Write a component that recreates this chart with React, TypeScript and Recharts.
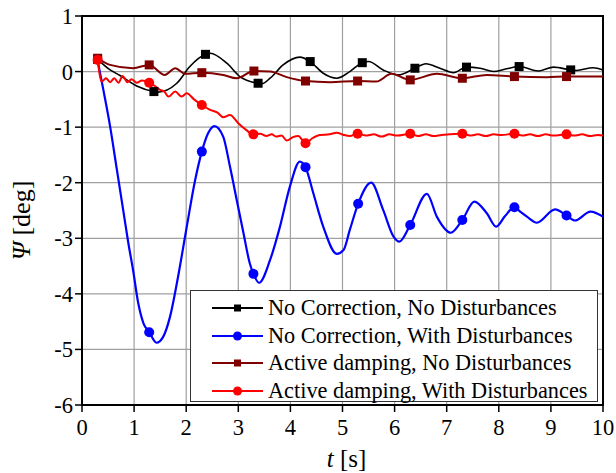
import { LineChart, Line, XAxis, YAxis, CartesianGrid, ReferenceArea, Legend } from "recharts";

const xTicks = [0, 1, 2, 3, 4, 5, 6, 7, 8, 9, 10];
const yTicks = [-6, -5, -4, -3, -2, -1, 0, 1];

// No Correction, No Disturbances
const blackT = [0.3, 0.54, 0.73, 1.05, 1.38, 1.45, 1.82, 2.07, 2.37, 2.46, 2.78, 3.03, 3.38, 3.45, 3.61, 3.86, 4.18, 4.38, 4.63, 4.89, 5.14, 5.38, 5.5, 5.78, 6.07, 6.39, 6.6, 6.87, 7.13, 7.38, 7.64, 7.9, 8.15, 8.39, 8.76, 9.05, 9.38, 9.49, 9.81, 10];
const blackY = [0.22, 0.03, -0.07, -0.26, -0.36, -0.37, -0.21, 0.09, 0.31, 0.33, 0.15, -0.09, -0.21, -0.22, -0.12, 0.12, 0.26, 0.18, -0.03, -0.12, 0.0, 0.16, 0.18, 0.03, -0.06, 0.06, 0.14, 0.06, -0.02, 0.08, 0.06, 0.0, 0.05, 0.09, 0.01, 0.08, 0.03, 0.02, 0.07, 0.03];
const blackMarks = [0.3, 1.38, 2.37, 3.38, 4.38, 5.38, 6.39, 7.38, 8.39, 9.38];

// No Correction, With Disturbances
const blueT = [0.3, 0.41, 0.54, 0.67, 0.79, 0.89, 0.98, 1.08, 1.18, 1.29, 1.43, 1.56, 1.69, 1.85, 2.0, 2.17, 2.3, 2.42, 2.54, 2.71, 2.84, 2.97, 3.1, 3.22, 3.29, 3.4, 3.61, 3.8, 3.99, 4.18, 4.29, 4.44, 4.63, 4.89, 5.02, 5.14, 5.3, 5.55, 5.78, 5.98, 6.09, 6.3, 6.62, 6.81, 7.08, 7.3, 7.53, 7.77, 7.95, 8.12, 8.3, 8.41, 8.54, 8.73, 9.08, 9.3, 9.46, 9.76, 10];
const blueY = [0.2, -0.33, -0.99, -1.77, -2.49, -3.09, -3.57, -4.17, -4.53, -4.69, -4.88, -4.77, -4.41, -3.66, -2.85, -1.96, -1.44, -1.11, -0.98, -1.17, -1.71, -2.31, -2.91, -3.45, -3.64, -3.8, -3.39, -2.79, -2.07, -1.62, -1.72, -2.19, -2.79, -3.28, -3.21, -2.85, -2.38, -2.0, -2.49, -2.97, -3.06, -2.76, -2.2, -2.61, -2.9, -2.67, -2.34, -2.55, -2.79, -2.6, -2.44, -2.52, -2.61, -2.72, -2.48, -2.59, -2.68, -2.52, -2.61];
const blueMarks = [1.29, 2.3, 3.29, 4.29, 5.3, 6.3, 7.3, 8.3, 9.3];

// Active damping, No Disturbances
const darkT = [0.3, 0.54, 0.98, 1.29, 1.59, 1.79, 1.98, 2.3, 2.71, 2.97, 3.3, 3.61, 3.93, 4.29, 4.76, 5.29, 5.65, 5.94, 6.3, 6.81, 7.3, 7.77, 8.3, 8.92, 9.3, 10];
const darkY = [0.24, 0.12, 0.06, 0.12, -0.06, 0.06, -0.04, -0.02, -0.06, -0.12, 0.01, 0.0, -0.1, -0.17, -0.19, -0.17, -0.18, -0.04, -0.15, -0.04, -0.12, -0.06, -0.09, -0.1, -0.09, -0.09];
const darkMarks = [0.3, 1.29, 2.3, 3.3, 4.29, 5.29, 6.3, 7.3, 8.3, 9.3];

// Active damping, With Disturbances
const redT = [0.3, 0.38, 0.46, 0.54, 0.62, 0.7, 0.78, 0.87, 0.95, 1.05, 1.15, 1.29, 1.4, 1.5, 1.58, 1.66, 1.79, 1.91, 2.01, 2.15, 2.3, 2.46, 2.6, 2.71, 2.84, 3.0, 3.15, 3.29, 3.42, 3.54, 3.64, 3.73, 3.83, 3.93, 4.05, 4.15, 4.29, 4.42, 4.57, 4.75, 4.89, 5.02, 5.14, 5.29, 5.45, 5.6, 5.75, 5.9, 6.05, 6.3, 6.45, 6.6, 6.75, 6.9, 7.05, 7.3, 7.45, 7.6, 7.75, 7.9, 8.05, 8.3, 8.45, 8.6, 8.75, 8.9, 9.05, 9.3, 9.45, 9.6, 9.75, 9.9, 10];
const redY = [0.21, -0.18, -0.12, -0.19, -0.12, -0.2, -0.08, -0.19, -0.14, -0.2, -0.16, -0.2, -0.26, -0.33, -0.36, -0.45, -0.36, -0.45, -0.39, -0.5, -0.6, -0.69, -0.74, -0.82, -0.78, -0.93, -1.05, -1.13, -1.12, -1.16, -1.13, -1.17, -1.15, -1.24, -1.18, -1.16, -1.29, -1.2, -1.14, -1.13, -1.1, -1.14, -1.16, -1.12, -1.15, -1.13, -1.17, -1.13, -1.15, -1.12, -1.16, -1.13, -1.16, -1.14, -1.13, -1.12, -1.15, -1.13, -1.16, -1.13, -1.14, -1.12, -1.15, -1.13, -1.16, -1.13, -1.15, -1.13, -1.15, -1.13, -1.16, -1.14, -1.15];
const redMarks = [0.3, 1.29, 2.3, 3.29, 4.29, 5.29, 6.3, 7.3, 8.3, 9.3];

const seriesNames = [
  "No Correction, No Disturbances",
  "No Correction, With Disturbances",
  "Active damping, No Disturbances",
  "Active damping, With Disturbances",
];

const toPoints = (t: number[], y: number[], marks: number[]) =>
  t.map((x, i) => ({ t: x, v: y[i], mark: marks.includes(x) }));

const series = [
  { name: seriesNames[0], color: "#000000", shape: "square", width: 1.6, data: toPoints(blackT, blackY, blackMarks) },
  { name: seriesNames[1], color: "#0000ff", shape: "circle", width: 2.2, data: toPoints(blueT, blueY, blueMarks) },
  { name: seriesNames[2], color: "#800000", shape: "square", width: 2, data: toPoints(darkT, darkY, darkMarks) },
  { name: seriesNames[3], color: "#ff0000", shape: "circle", width: 2, data: toPoints(redT, redY, redMarks) },
];

const FONT = "'Liberation Serif', 'Times New Roman', serif";

function markerDot(shape: string, color: string) {
  return (props: any) => {
    const { cx, cy, payload, index } = props;
    if (!payload || !payload.mark || cx == null) return <g key={"n" + index} />;
    return shape === "square" ? (
      <rect key={"m" + index} x={cx - 4.5} y={cy - 4.5} width={9} height={9} fill={color} />
    ) : (
      <circle key={"m" + index} cx={cx} cy={cy} r={5} fill={color} />
    );
  };
}

const LegendBox = () => (
  <div
    style={{
      width: 408,
      height: 112,
      boxSizing: "border-box",
      border: "1px solid #333",
      background: "#fff",
      paddingTop: 3,
      fontFamily: FONT,
      fontSize: 22.3,
      color: "#000",
    }}
  >
    {series.map((s) => (
      <div key={s.name} style={{ display: "flex", alignItems: "center", height: 27.7 }}>
        <svg width={77} height={14} style={{ flex: "none" }}>
          <line x1={21} x2={72} y1={7} y2={7} stroke={s.color} strokeWidth={2} />
          {s.shape === "square" ? (
            <rect x={43} y={3.5} width={7} height={7} fill={s.color} />
          ) : (
            <circle cx={46.5} cy={7} r={4.5} fill={s.color} />
          )}
        </svg>
        <span style={{ whiteSpace: "nowrap" }}>{s.name}</span>
      </div>
    ))}
  </div>
);

const XTitle = (props: any) => {
  const vb = props.viewBox;
  return (
    <text x={vb.x + vb.width / 2 + 4} y={vb.y + 62} textAnchor="middle" fontFamily={FONT} fontSize={25} fill="#000">
      <tspan fontStyle="italic">t</tspan> [s]
    </text>
  );
};

const YTitle = (props: any) => {
  const vb = props.viewBox;
  const x = 30;
  const y = vb.y + vb.height / 2 + 10;
  return (
    <text x={x} y={y} transform={`rotate(-90, ${x}, ${y})`} textAnchor="middle" fontFamily={FONT} fontSize={26} fill="#000">
      <tspan fontStyle="italic">Ψ</tspan> [deg]
    </text>
  );
};

export default function App() {
  return (
    <div style={{ position: "absolute", left: 0, top: 0, width: 616, height: 473, background: "#fff" }}>
      <LineChart width={616} height={473} margin={{ top: 16, right: 13, bottom: 0, left: 0 }}>
        <CartesianGrid stroke="#a0a0a0" strokeWidth={1.2} />
        <XAxis
          dataKey="t"
          type="number"
          domain={[0, 10]}
          ticks={xTicks}
          height={68}
          tickSize={7}
          tickMargin={7}
          axisLine={{ stroke: "#000", strokeWidth: 2 }}
          tickLine={{ stroke: "#000", strokeWidth: 1.5 }}
          tick={{ fill: "#000", fontFamily: FONT, fontSize: 22.5 }}
          allowDuplicatedCategory={false}
          label={<XTitle />}
        />
        <YAxis
          type="number"
          domain={[-6, 1]}
          ticks={yTicks}
          width={82}
          tickSize={7}
          tickMargin={2}
          axisLine={{ stroke: "#000", strokeWidth: 2 }}
          tickLine={{ stroke: "#000", strokeWidth: 1.5 }}
          tick={{ fill: "#000", fontFamily: FONT, fontSize: 22.5 }}
          label={<YTitle />}
        />
        <ReferenceArea x1={0} x2={10} y1={-6} y2={1} fill="none" stroke="#000" strokeWidth={2} />
        {series.map((s) => (
          <Line
            key={s.name}
            name={s.name}
            data={s.data}
            dataKey="v"
            type="monotone"
            stroke={s.color}
            strokeWidth={s.width}
            dot={markerDot(s.shape, s.color)}
            activeDot={false}
            isAnimationActive={false}
          />
        ))}
        <Legend
          layout="vertical"
          align="center"
          verticalAlign="middle"
          content={<LegendBox />}
          wrapperStyle={{ left: 190, top: 290, width: 408, height: 112 }}
        />
      </LineChart>
    </div>
  );
}
